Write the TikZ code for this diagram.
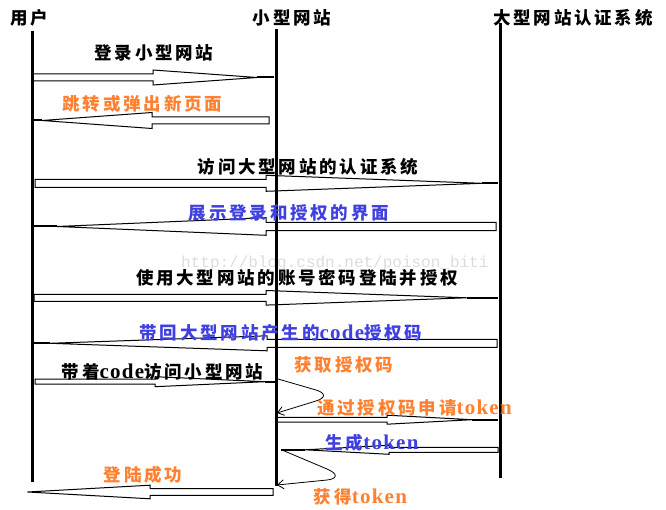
\documentclass[tikz,border=0pt]{standalone}
\usepackage{fontspec}
\setmainfont{Noto Sans CJK SC}[LetterSpace=16]
\newfontfamily\latfont{Liberation Serif}[Scale=1.2,LetterSpace=6]
\newfontfamily\wmfont{Liberation Mono}
\newcommand{\lat}[1]{{\latfont\bfseries #1}}
\usetikzlibrary{arrows.meta}
\definecolor{lblorange}{HTML}{FF8030}
\definecolor{lblblue}{HTML}{4040E0}
\definecolor{wmgrey}{HTML}{DCDCDC}
\newcommand{\blkarrow}[7]{%
  \draw[blk] (#1,#5-#6) -- (#2,#5-#6) -- (#2,#5-#7) -- (#3,#5) -- (#2,#5+#7) -- (#2,#5+#6) -- (#1,#5+#6) -- cycle;
  \draw[stem] (#3,#5) -- (#4,#5);}
\begin{document}
\begin{tikzpicture}[x=1pt,y=-1pt,
  life/.style={line width=3pt},
  blk/.style={draw,line width=1pt},
  stem/.style={line width=2pt},
  curv/.style={line width=0.8pt,-{Straight Barb[length=6pt,width=9pt]}},
  lbl/.style={inner sep=0pt,font=\bfseries\fontsize{17.5}{19}\selectfont},
  hdr/.style={lbl},
  org/.style={lbl,text=lblorange},
  blu/.style={lbl,text=lblblue}]
\useasboundingbox (0,0) rectangle (666,510);
% watermark
\node[inner sep=0pt,text=wmgrey,font=\wmfont\fontsize{16}{17}\selectfont,anchor=west] (wm) at (181,263) {http://blog.csdn.net/poison\_biti};
% block arrows
\blkarrow{32}{153}{257}{274}{77.5}{3.5}{7.5}
\blkarrow{269}{152}{42}{32}{120.5}{3.5}{8}
\blkarrow{35}{266}{482}{498}{183.3}{4}{8}
\blkarrow{496}{266}{57}{32}{226.5}{4.2}{8.8}
\blkarrow{34}{266}{467}{498}{297.8}{3.5}{7.3}
\blkarrow{497}{267}{50}{33}{343.3}{4}{7.5}
\blkarrow{35}{155}{265}{276}{381.7}{2.5}{5}
\blkarrow{277}{387}{472}{498}{419.7}{2.3}{4.5}
\blkarrow{498}{389}{305}{281}{449.8}{2.5}{4.5}
\blkarrow{273}{150}{27.5}{27.5}{492}{3.4}{6.8}
% lifelines
\coordinate (uT) at (32,31);  \coordinate (uB) at (32,482);
\coordinate (sT) at (276,29); \coordinate (sB) at (276,486);
\coordinate (lT) at (500,23); \coordinate (lB) at (500,478);
\draw[life] (uT) -- (uB);
\draw[life] (sT) -- (sB);
\draw[life] (lT) -- (lB);
% self arrows
\coordinate (c1s) at (278,379); \coordinate (c1e) at (277,413);
\coordinate (c2s) at (282,450); \coordinate (c2e) at (277,485);
\draw[curv] (c1s) -- (316,390) .. controls (326,393) and (326,398) .. (316,401) -- (c1e);
\draw[curv] (c2s) -- (327,469) .. controls (339,474) and (337,479) .. (327,480) -- (c2e);
% headers
\node[hdr] (hU) at (29,18) {用户};
\node[hdr] (hS) at (292,18) {小型网站};
\node[hdr] (hL) at (573,18) {大型网站认证系统};
% labels
\node[lbl] (m1) at (154,53) {登录小型网站};
\node[org] (m2) at (142.5,104) {跳转或弹出新页面};
\node[lbl] (m3) at (308,167) {访问大型网站的认证系统};
\node[blu] (m4) at (289,213) {展示登录和授权的界面};
\node[lbl] (m5) at (297,277.5) {使用大型网站的账号密码登陆并授权};
\node[blu] (m6) at (281,332.5) {带回大型网站产生的\lat{code}授权码};
\node[lbl] (m7) at (162.5,371.5) {带着\lat{code}访问小型网站};
\node[org] (s1) at (344,365) {获取授权码};
\node[org] (m8) at (414.5,408) {通过授权码申请\lat{token}};
\node[blu] (m9) at (372,442.5) {生成\lat{token}};
\node[org] (s2) at (360.5,496.5) {获得\lat{token}};
\node[org] (m10) at (143,475) {登陆成功};
\end{tikzpicture}
\end{document}
